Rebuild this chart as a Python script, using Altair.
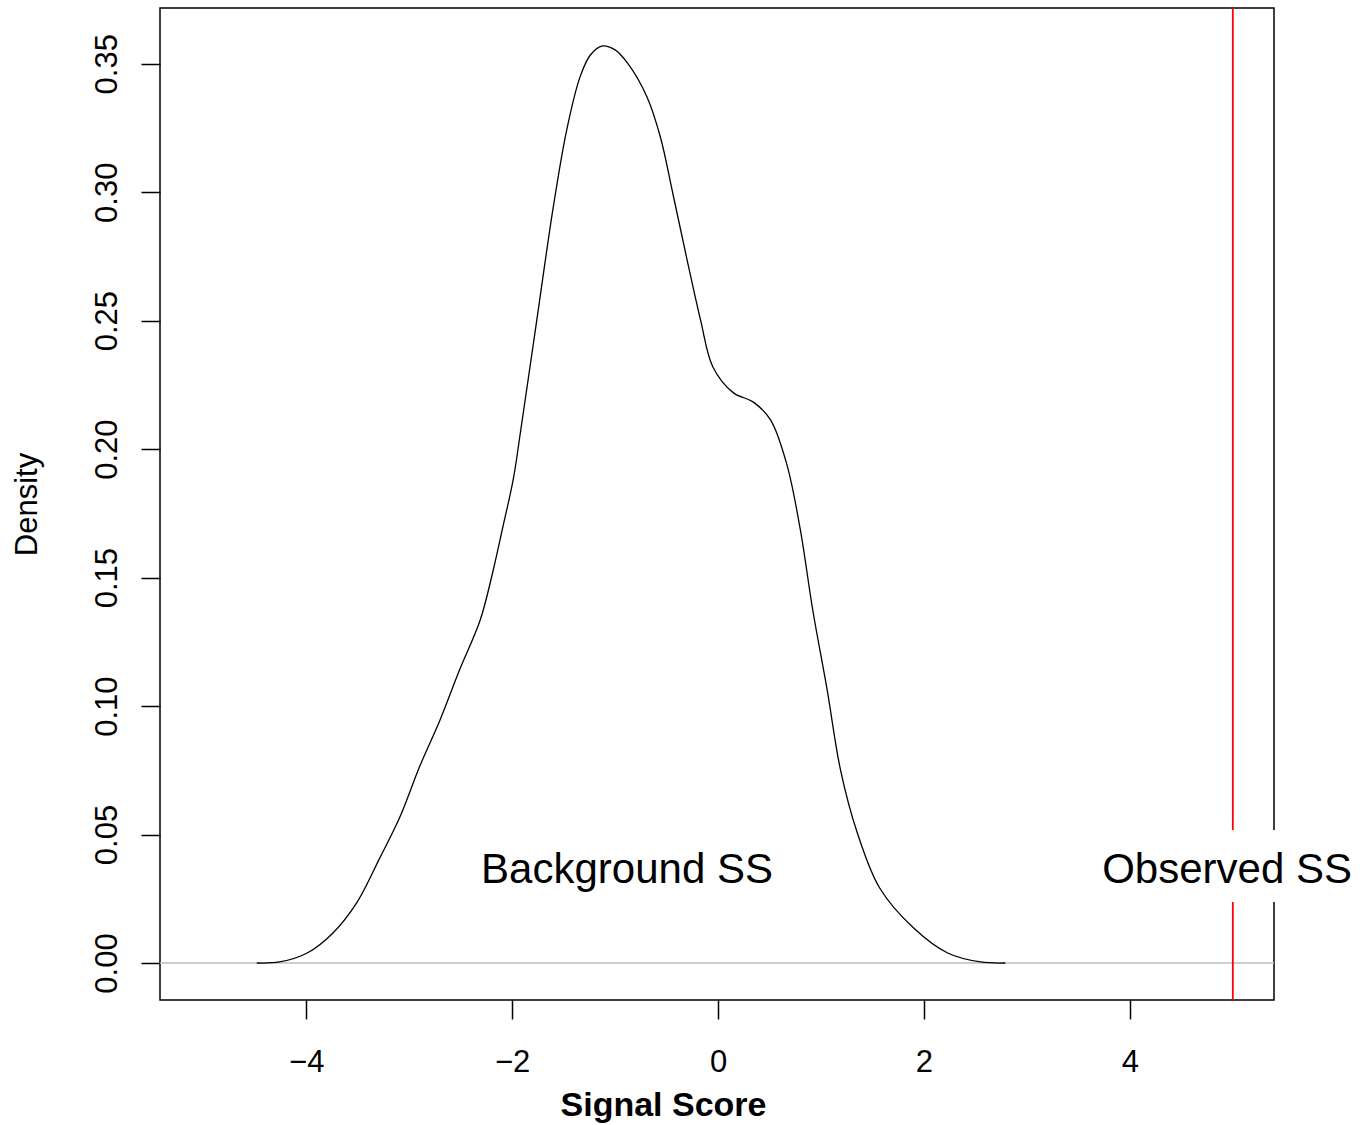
import altair as alt
import pandas as pd

# Density curve of the background signal scores
score_x = [-4.48, -4.26, -3.99, -3.74, -3.51, -3.28, -3.09, -2.90, -2.70, -2.51,
           -2.31, -2.19, -2.09, -1.99, -1.92, -1.76, -1.60, -1.47, -1.34, -1.24,
           -1.13, -1.00, -0.88, -0.69, -0.56, -0.44, -0.30, -0.17, -0.05, 0.15,
           0.34, 0.51, 0.67, 0.80, 0.92, 1.06, 1.19, 1.35, 1.57, 1.90,
           2.23, 2.55, 2.79]
density_y = [0.0000, 0.0004, 0.0039, 0.0117, 0.0234, 0.0413, 0.0568, 0.0763, 0.0946, 0.1141,
             0.1335, 0.1518, 0.1697, 0.1880, 0.2063, 0.2503, 0.2943, 0.3242, 0.3449, 0.3534,
             0.3569, 0.3554, 0.3503, 0.3371, 0.3215, 0.2997, 0.2736, 0.2503, 0.2320, 0.2219,
             0.2184, 0.2114, 0.1938, 0.1685, 0.1374, 0.1063, 0.0751, 0.0510, 0.0292, 0.0136,
             0.0039, 0.0004, 0.0000]

observed_ss = [5.0]
zero_line = [0.0]

label_text = ["Background SS", "Observed SS"]
label_x = [-0.884, 4.944]
label_y = [0.0311, 0.0311]

# white box behind the "Observed SS" label
box_x = [3.66]
box_x2 = [6.22]
box_y = [0.0237]
box_y2 = [0.0518]

x_ticks = [-4, -2, 0, 2, 4]
y_ticks = [0.0, 0.05, 0.10, 0.15, 0.20, 0.25, 0.30, 0.35]
x_domain = [-5.42, 5.40]
y_domain = [-0.0144, 0.3717]

FONT = "Liberation Sans"

curve_df = pd.DataFrame({"x": score_x, "density": density_y})
obs_df = pd.DataFrame({"x": observed_ss})
zero_df = pd.DataFrame({"density": zero_line})
label_df = pd.DataFrame({"x": label_x, "density": label_y, "label": label_text})
box_df = pd.DataFrame({"x": box_x, "x2": box_x2, "density": box_y, "density2": box_y2})

x_axis = alt.Axis(
    values=x_ticks, format="d", title="Signal Score", grid=False, domain=False,
    tickSize=19, tickWidth=1.5, tickColor="black",
    labelFont=FONT, labelFontSize=31, labelColor="black",
    labelBaseline="alphabetic", labelPadding=52,
    titleFont=FONT, titleFontSize=34, titleFontWeight="bold", titleColor="black",
    titleX=503, titleY=115, titleAlign="center", titleBaseline="alphabetic",
)
y_axis = alt.Axis(
    values=y_ticks, format=".2f", title="Density", grid=False, domain=False,
    tickSize=19, tickWidth=1.5, tickColor="black",
    labelFont=FONT, labelFontSize=31, labelColor="black",
    labelAngle=270, labelAlign="center", labelBaseline="alphabetic", labelPadding=25,
    titleFont=FONT, titleFontSize=31, titleFontWeight="normal", titleColor="black",
    titleAngle=270, titleX=-133, titleY=496, titleAlign="center", titleBaseline="middle",
)
x_scale = alt.Scale(domain=x_domain, nice=False, zero=False)
y_scale = alt.Scale(domain=y_domain, nice=False, zero=False)


def X(field="x"):
    return alt.X(f"{field}:Q", scale=x_scale, axis=x_axis, title="Signal Score")


def Y(field="density"):
    return alt.Y(f"{field}:Q", scale=y_scale, axis=y_axis, title="Density")


zero_rule = alt.Chart(zero_df).mark_rule(color="#BEBEBE", strokeWidth=1.5).encode(
    y=Y()
)

curve = alt.Chart(curve_df).mark_line(
    color="black", strokeWidth=1.3, interpolate="catmull-rom"
).encode(x=X(), y=Y(), order="x:Q")

obs_rule = alt.Chart(obs_df).mark_rule(color="#FF0000", strokeWidth=1.8).encode(
    x=X()
)

box = alt.Chart(box_df).mark_rect(color="white", clip=False).encode(
    x=X(), x2="x2:Q", y=Y(), y2="density2:Q",
)

labels = alt.Chart(label_df).mark_text(
    font=FONT, fontSize=42, color="black", align="center", baseline="alphabetic", clip=False
).encode(x=X(), y=Y(), text="label:N")

chart = alt.layer(zero_rule, curve, obs_rule, box, labels).properties(
    width=1114,
    height=992,
    padding={"left": 160, "top": 8, "right": 86, "bottom": 125},
    autosize=alt.AutoSizeParams(type="none"),
    background="white",
).configure_view(stroke="black", strokeWidth=1.5)

chart.save("out.html", embed_options={"renderer": "svg", "actions": False})
